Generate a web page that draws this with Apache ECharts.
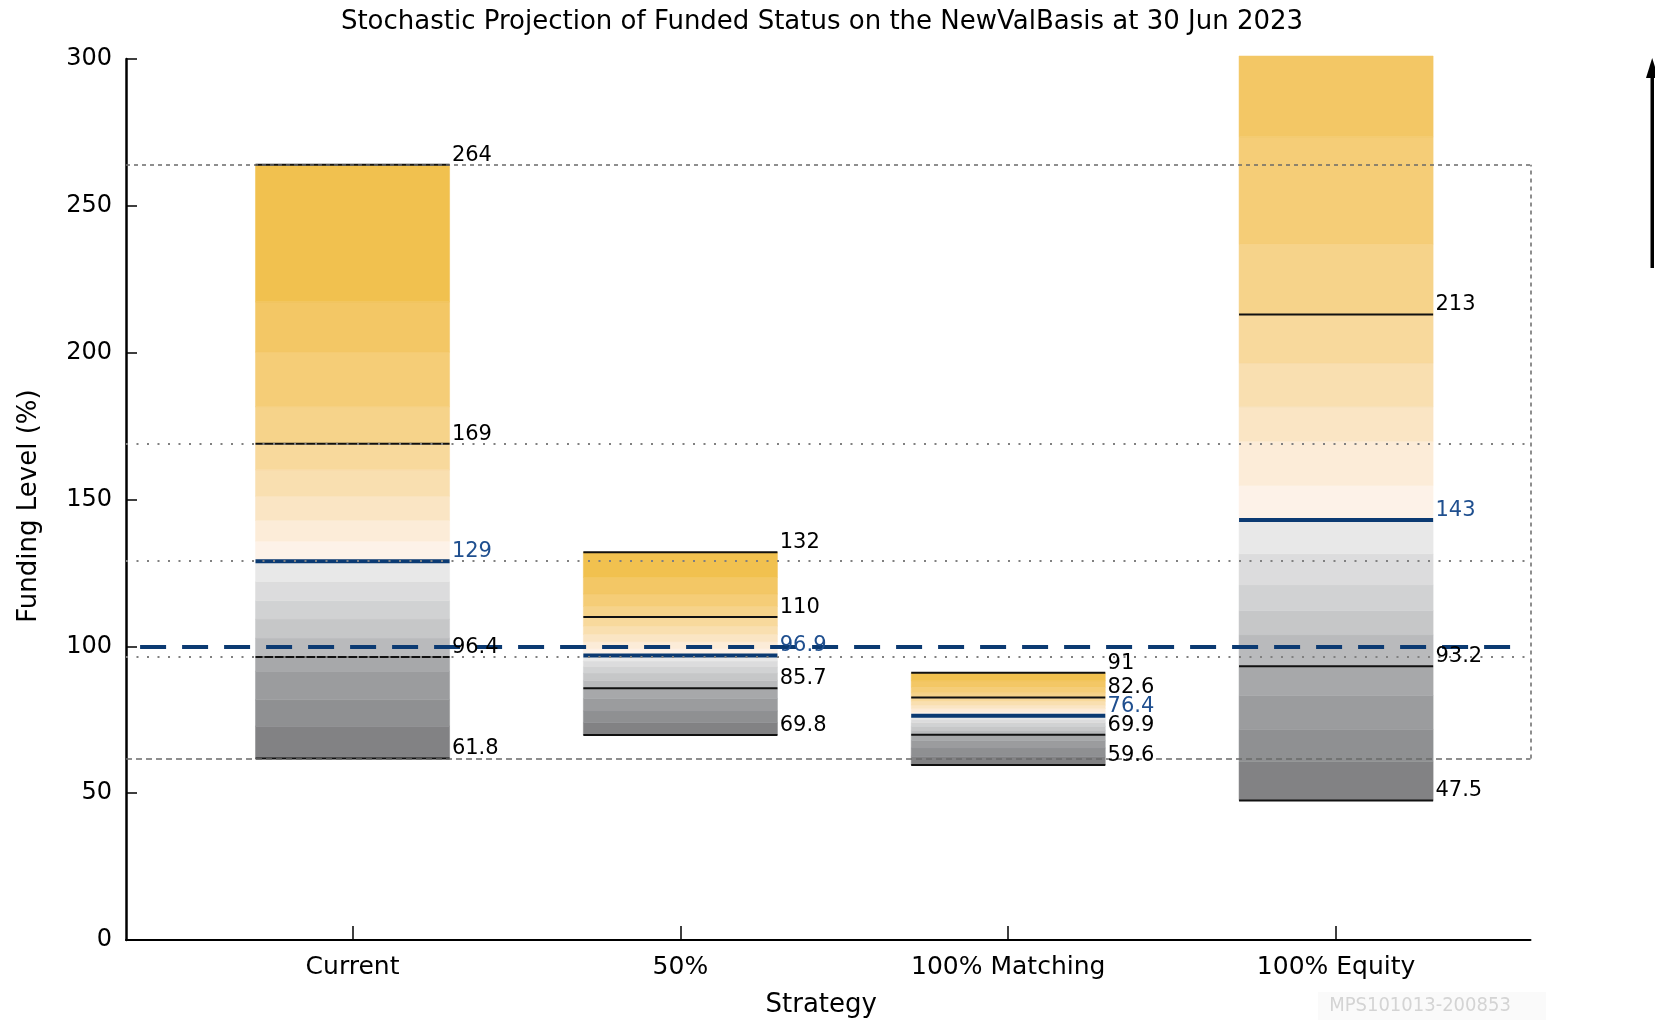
<!DOCTYPE html>
<html>
<head>
<meta charset="utf-8">
<title>Stochastic Projection of Funded Status</title>
<script src="https://cdn.jsdelivr.net/npm/echarts@6/dist/echarts.min.js"></script>
<style>
  html, body { margin: 0; padding: 0; background: #ffffff; }
  #chart { width: 1655px; height: 1023px; }
</style>
</head>
<body>
<div id="chart"></div>
<script>
// Strategies on the x axis (placed at 1, 2, 3, 4)
const strategies = ['Current', '50%', '100% Matching', '100% Equity'];

// Percentile levels for each band edge: 5th, 10th, ... 95th
const percentileLevels = [5, 10, 15, 20, 25, 30, 35, 40, 45, 50, 55, 60, 65, 70, 75, 80, 85, 90, 95];

// Projected funding level (%) at each percentile level, per strategy
const currentPct  = [61.8, 72.8, 81.8, 91.5, 96.4, 102.8, 109.3, 115.5, 122.0, 129, 135.8, 142.9, 151.1, 160.1, 169, 181.6, 200.2, 217.3, 264];
const halfPct     = [69.8, 74.0, 78.0, 82.2, 85.7, 88.4, 90.9, 93.0, 95.0, 96.9, 99.2, 101.6, 104.1, 106.9, 110, 113.6, 117.8, 123.5, 132];
const matchingPct = [59.6, 62.6, 65.4, 67.9, 69.9, 71.4, 72.8, 74.0, 75.2, 76.4, 77.6, 78.8, 80.0, 81.3, 82.6, 84.2, 86.1, 88.3, 91];
const equityPct   = [47.5, 60.7, 71.7, 83.3, 93.2, 103.9, 112.1, 120.9, 131.5, 143, 154.8, 169.8, 181.6, 196.5, 213, 236.9, 273.5, 320, 372];

// Full funding reference level
const fullFunding = 100;

// Y axis range and ticks
const yMin = 0, yMax = 300, yStep = 50;

// Band colours: below median (5-10 ... 45-50) and above median (50-55 ... 90-95)
const greyBands   = ['#828284', '#8f9092', '#9b9c9e', '#a7a8aa', '#b9babc', '#c6c7c8', '#d1d2d3', '#dcdcdd', '#e8e8e8'];
const yellowBands = ['#fdf2e8', '#fcecd8', '#fae5c4', '#f9dfb0', '#f8d99c', '#f6d38a', '#f5cd77', '#f3c765', '#f1c14f'];

const allPct = [currentPct, halfPct, matchingPct, equityPct];
const seriesData = strategies.map((s, i) => [i + 1].concat(allPct[i]));

// indices into the percentile list that get a line and a label
const markedIdx = [0, 4, 9, 14, 18];
const medianIdx = 9;

const FONT = '"DejaVu Sans", "Liberation Sans", sans-serif';
const BAR_HALF = 0.296;     // half bar width, in x-axis units
const LABEL_DX = 0.303;     // label offset from strategy centre
const X_MIN = 0.309, X_MAX = 4.593;

function readPercentiles(api) {
  const p = [];
  for (let k = 1; k <= percentileLevels.length; k++) p.push(api.value(k));
  return p;
}

function renderBar(params, api) {
  const x = api.value(0);
  const p = readPercentiles(api);
  const cs = params.coordSys;
  // bands may run a few pixels past the top of the plot area
  const clipBox = { x: cs.x, y: cs.y - 3, width: cs.width, height: cs.height + 3 };
  const children = [];
  for (let i = 0; i < p.length - 1; i++) {
    const tl = api.coord([x - BAR_HALF, p[i + 1]]);
    const br = api.coord([x + BAR_HALF, p[i]]);
    const shape = echarts.graphic.clipRectByRect(
      { x: tl[0], y: tl[1], width: br[0] - tl[0], height: br[1] - tl[1] }, clipBox);
    if (!shape) continue;
    const color = i < 9 ? greyBands[i] : yellowBands[i - 9];
    children.push({ type: 'rect', shape: shape, style: { fill: color, stroke: color, lineWidth: 0.5 } });
  }
  markedIdx.forEach(k => {
    const v = p[k];
    if (v > yMax) return;
    const a = api.coord([x - BAR_HALF, v]);
    const b = api.coord([x + BAR_HALF, v]);
    const isMedian = k === medianIdx;
    children.push({
      type: 'line', z2: isMedian ? 12 : 10,
      shape: { x1: a[0], y1: a[1], x2: b[0], y2: b[1] },
      style: { stroke: isMedian ? '#0b3a72' : '#111111', lineWidth: isMedian ? 4 : 2 }
    });
  });
  return { type: 'group', children: children };
}

function fmt(v) { return String(Number(v.toPrecision(3))); }

function renderLabels(params, api) {
  const x = api.value(0);
  const p = readPercentiles(api);
  const children = [];
  markedIdx.forEach(k => {
    const v = p[k];
    if (v > yMax) return;
    const pt = api.coord([x + LABEL_DX, v]);
    children.push({
      type: 'text', x: pt[0], y: pt[1] + 1,
      style: {
        text: fmt(v), font: '21px ' + FONT,
        fill: k === medianIdx ? '#1f4f8f' : '#000000',
        align: 'left', verticalAlign: 'bottom'
      }
    });
  });
  return { type: 'group', children: children };
}

// Reference lines taken from the Current strategy's marked percentiles
const refTop = currentPct[18], refBottom = currentPct[0];
const refDotted = [currentPct[14], currentPct[9], currentPct[4]];

const dotStyle = { color: '#808080', width: 2, type: [2, 8.5] };
const dashStyle = { color: '#6a6a6a', width: 1.5, type: [4, 4] };
const dash2Style = { color: '#6a6a6a', width: 1.5, type: [6, 4] };

const markLines = [
  { yAxis: refTop, lineStyle: dashStyle },
  { yAxis: refBottom, lineStyle: dash2Style },
  [{ coord: [X_MAX, refBottom], lineStyle: dashStyle }, { coord: [X_MAX, refTop] }]
].concat(refDotted.map(v => ({ yAxis: v, lineStyle: dotStyle })));

const chart = echarts.init(document.getElementById('chart'), null, { renderer: 'canvas' });

chart.setOption({
  backgroundColor: '#ffffff',
  animation: false,
  title: {
    text: 'Stochastic Projection of Funded Status on the NewValBasis at 30 Jun 2023',
    left: 817, top: 4, textAlign: 'center',
    textStyle: { fontFamily: FONT, fontSize: 26, fontWeight: 'normal', color: '#000000' }
  },
  grid: { left: 126, right: 124.5, top: 59, bottom: 79 },
  xAxis: {
    type: 'value', min: X_MIN, max: X_MAX,
    name: 'Strategy', nameLocation: 'middle', nameGap: 52,
    nameTextStyle: { fontFamily: FONT, fontSize: 26, color: '#000000', padding: [0, 14, 0, 0] },
    axisLine: { onZero: false, lineStyle: { color: '#000000', width: 2 } },
    axisTick: { inside: true, length: 14, customValues: [1, 2, 3, 4], lineStyle: { color: '#000000', width: 1.5 } },
    axisLabel: {
      customValues: [1, 2, 3, 4], margin: 15,
      formatter: v => strategies[Math.round(v) - 1] || '',
      fontFamily: FONT, fontSize: 25, color: '#000000'
    },
    splitLine: { show: false }
  },
  yAxis: {
    type: 'value', min: yMin, max: yMax, interval: yStep,
    name: 'Funding Level (%)', nameLocation: 'middle', nameGap: 84,
    nameTextStyle: { fontFamily: FONT, fontSize: 26, color: '#000000', padding: [0, 13, 0, 0] },
    axisLine: { show: true, onZero: false, lineStyle: { color: '#000000', width: 2.5 } },
    axisTick: { show: true, inside: true, length: 11, lineStyle: { color: '#000000', width: 1.5 } },
    axisLabel: { margin: 14, fontFamily: FONT, fontSize: 24, color: '#000000' },
    splitLine: { show: false }
  },
  series: [
    {
      type: 'custom', name: 'bands', z: 2,
      renderItem: renderBar,
      data: seriesData,
      encode: { x: 0, y: [1, 19] }
    },
    {
      type: 'line', name: 'reference', z: 3, data: [],
      markLine: {
        silent: true, symbol: 'none', label: { show: false },
        data: markLines.concat([
          [{ coord: [0.352, fullFunding], lineStyle: { color: '#0b3a72', width: 4, type: [26, 16] } },
           { coord: [4.548, fullFunding] }]
        ])
      }
    },
    {
      type: 'custom', name: 'labels', z: 5,
      renderItem: renderLabels,
      data: seriesData,
      encode: { x: 0, y: [1, 19] }
    }
  ],
  graphic: [
    {
      type: 'rect', left: 1318, top: 992, z: 0,
      shape: { width: 228, height: 28 }, style: { fill: '#fafafa' }
    },
    {
      type: 'text', x: 1420, y: 1006, z: 1,
      style: { text: 'MPS101013-200853', font: '20px "DejaVu Sans Condensed", "DejaVu Sans", sans-serif',
               fill: '#d4d4d4', align: 'center', verticalAlign: 'middle' }
    },
    {
      type: 'group', z: 10,
      children: [
        { type: 'rect', shape: { x: 1650.5, y: 72, width: 3.5, height: 196 }, style: { fill: '#000000' } },
        { type: 'polygon', shape: { points: [[1646, 78], [1652.2, 58], [1658.5, 78]] }, style: { fill: '#000000' } }
      ]
    }
  ]
});
</script>
</body>
</html>
